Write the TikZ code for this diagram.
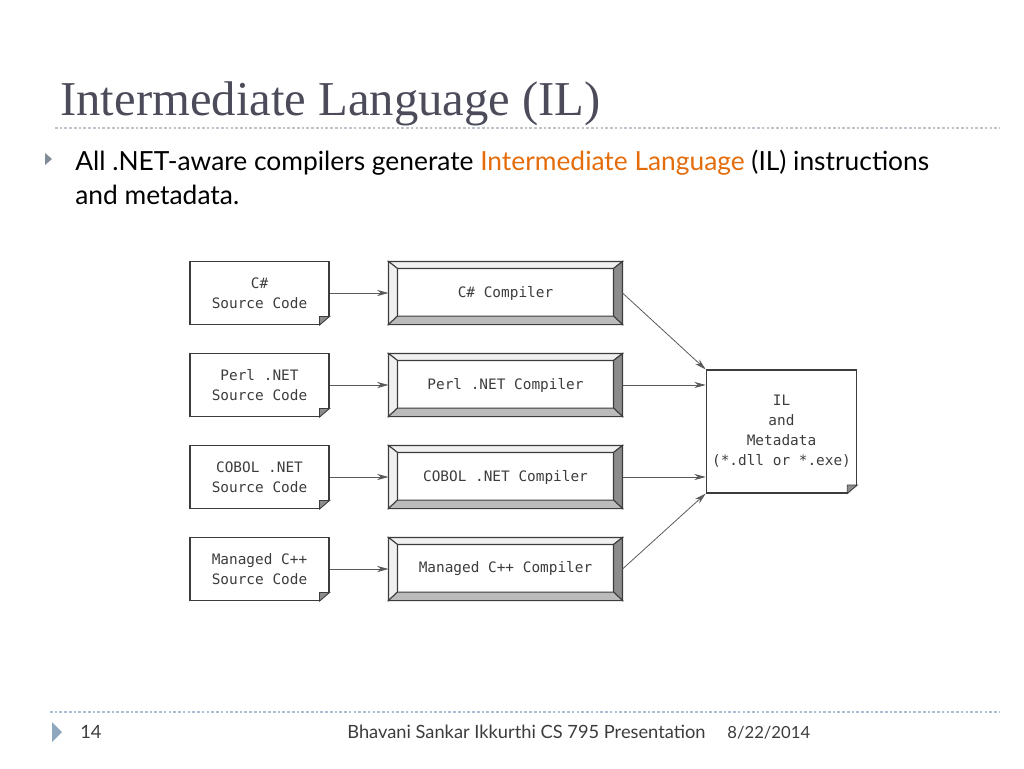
\documentclass[tikz,border=0pt]{standalone}
\usepackage{fontspec}
\setmainfont{Liberation Serif}
\newfontfamily\bodyfont{Lato}
\newfontfamily\codefont{DejaVu Sans Mono}
\usetikzlibrary{calc,positioning,arrows.meta}
\definecolor{titlegray}{HTML}{4B4B5A}
\definecolor{accent}{HTML}{E46C0A}
\definecolor{rulegray}{HTML}{BFC5CD}
\definecolor{footrule}{HTML}{A9BED0}
\definecolor{bulletgray}{HTML}{7F8B98}
\definecolor{bulletblue}{HTML}{8EA7BF}
\definecolor{linegray}{HTML}{3C3C3C}
\definecolor{bevlight}{HTML}{F0F0F0}
\definecolor{bevmid}{HTML}{BBBBBB}
\definecolor{bevdark}{HTML}{8C8C8C}

\tikzset{
  srcbox/.style={draw=linegray,line width=0.6pt,minimum width=2.78cm,minimum height=1.26cm,
    align=center,text=linegray,font=\codefont\fontsize{8.2}{11.4}\selectfont},
  compbox/.style={draw=linegray,line width=0.6pt,minimum width=4.66cm,minimum height=1.24cm,
    text=linegray,font=\codefont\fontsize{8.2}{11.4}\selectfont},
  ilbox/.style={draw=linegray,line width=0.6pt,minimum width=2.86cm,minimum height=2.46cm,
    align=center,text=linegray,font=\codefont\fontsize{8.2}{11.4}\selectfont},
  arr/.style={draw=linegray!85,line width=0.45pt,-{Stealth[length=6.5pt,width=3.5pt]}},
}

% folded corner at the lower right of a box
\newcommand{\dogear}[1]{%
  \fill[white] ($(#1.south east)+(0.6pt,-0.6pt)$) -- ($(#1.south east)+(-0.21cm,-0.6pt)$)
    -- ($(#1.south east)+(0.6pt,0.18cm)$) -- cycle;
  \filldraw[draw=linegray,fill=bevdark,line width=0.5pt] ($(#1.south east)+(-0.2cm,0)$)
    -- ($(#1.south east)+(0,0.17cm)$) -- ($(#1.south east)+(-0.2cm,0.17cm)$) -- cycle;
}
% raised frame round a compiler box
\newcommand{\bevel}[1]{%
  \coordinate (#1-nw) at ($(#1.north west)+(0.18cm,-0.14cm)$);
  \coordinate (#1-ne) at ($(#1.north east)+(-0.18cm,-0.14cm)$);
  \coordinate (#1-se) at ($(#1.south east)+(-0.18cm,0.17cm)$);
  \coordinate (#1-sw) at ($(#1.south west)+(0.18cm,0.17cm)$);
  \filldraw[draw=linegray,fill=bevlight,line width=0.6pt] (#1.north west) -- (#1.north east) -- (#1-ne) -- (#1-nw) -- cycle;
  \filldraw[draw=linegray,fill=bevlight,line width=0.6pt] (#1.north west) -- (#1-nw) -- (#1-sw) -- (#1.south west) -- cycle;
  \filldraw[draw=linegray,fill=bevdark,line width=0.6pt] (#1.north east) -- (#1.south east) -- (#1-se) -- (#1-ne) -- cycle;
  \filldraw[draw=linegray,fill=bevmid,line width=0.6pt] (#1.south west) -- (#1-sw) -- (#1-se) -- (#1.south east) -- cycle;
}

\begin{document}
\begin{tikzpicture}[x=0.02cm,y=-0.02cm]
  \useasboundingbox (0,0) rectangle (1024,768);
  % heading
  \node[anchor=base west,inner sep=0pt,text=titlegray,font=\fontsize{27.7}{32}\selectfont] (title) at (60,115) {Intermediate Language (IL)};
  \draw[rulegray,line width=0.7pt,dash pattern=on 1.5pt off 1.2pt] (55,128) -- (1000,128);
  \fill[bulletgray] (45,153) -- (52,159) -- (45,165) -- cycle;
  \node[anchor=base west,inner sep=0pt,font=\bodyfont\fontsize{15}{18}\selectfont] (line1) at (75,170)
    {All .NET-aware compilers generate \textcolor{accent}{Intermediate Language} (IL) instructions};
  \node[anchor=base west,inner sep=0pt,font=\bodyfont\fontsize{15}{18}\selectfont] (line2) at (75,204) {and metadata.};

  % source files
  \node[srcbox] (src1) at (259.5,293) {C\#\\Source Code};
  \node[srcbox] (src2) at (259.5,385) {Perl .NET\\Source Code};
  \node[srcbox] (src3) at (259.5,477) {COBOL .NET\\Source Code};
  \node[srcbox] (src4) at (259.5,569) {Managed C++\\Source Code};
  \dogear{src1}
  \dogear{src2}
  \dogear{src3}
  \dogear{src4}

  % compilers
  \node[compbox] (comp1) at (505.5,293) {C\# Compiler};
  \node[compbox] (comp2) at (505.5,385) {Perl .NET Compiler};
  \node[compbox] (comp3) at (505.5,477) {COBOL .NET Compiler};
  \node[compbox] (comp4) at (505.5,569) {Managed C++ Compiler};
  \bevel{comp1}
  \bevel{comp2}
  \bevel{comp3}
  \bevel{comp4}

  % output
  \node[ilbox] (il) at (781.5,431.5) {IL\\and\\Metadata\\(*.dll or *.exe)};
  \dogear{il}

  \draw[arr] (src1.east) -- (comp1.west);
  \draw[arr] (src2.east) -- (comp2.west);
  \draw[arr] (src3.east) -- (comp3.west);
  \draw[arr] (src4.east) -- (comp4.west);
  \draw[arr] (comp1.east) -- (il.north west);
  \draw[arr] (comp2.east) -- (il.west |- comp2.east);
  \draw[arr] (comp3.east) -- (il.west |- comp3.east);
  \draw[arr] (comp4.east) -- (il.south west);

  % footer
  \draw[footrule,line width=0.7pt,dash pattern=on 1.5pt off 1.2pt] (50,712) -- (1000,712);
  \fill[bulletblue] (52,722) -- (62,732) -- (52,742) -- cycle;
  \node[anchor=base west,inner sep=0pt,text=linegray,font=\bodyfont\fontsize{10.4}{12}\selectfont] (page) at (80,738) {14};
  \node[anchor=base west,inner sep=0pt,text=linegray,font=\bodyfont\fontsize{10.4}{12}\selectfont] (author) at (347,738) {Bhavani Sankar Ikkurthi CS 795 Presentation};
  \node[anchor=base west,inner sep=0pt,text=linegray,font=\bodyfont\fontsize{9.5}{12}\selectfont] (date) at (727,738) {8/22/2014};
\end{tikzpicture}
\end{document}
